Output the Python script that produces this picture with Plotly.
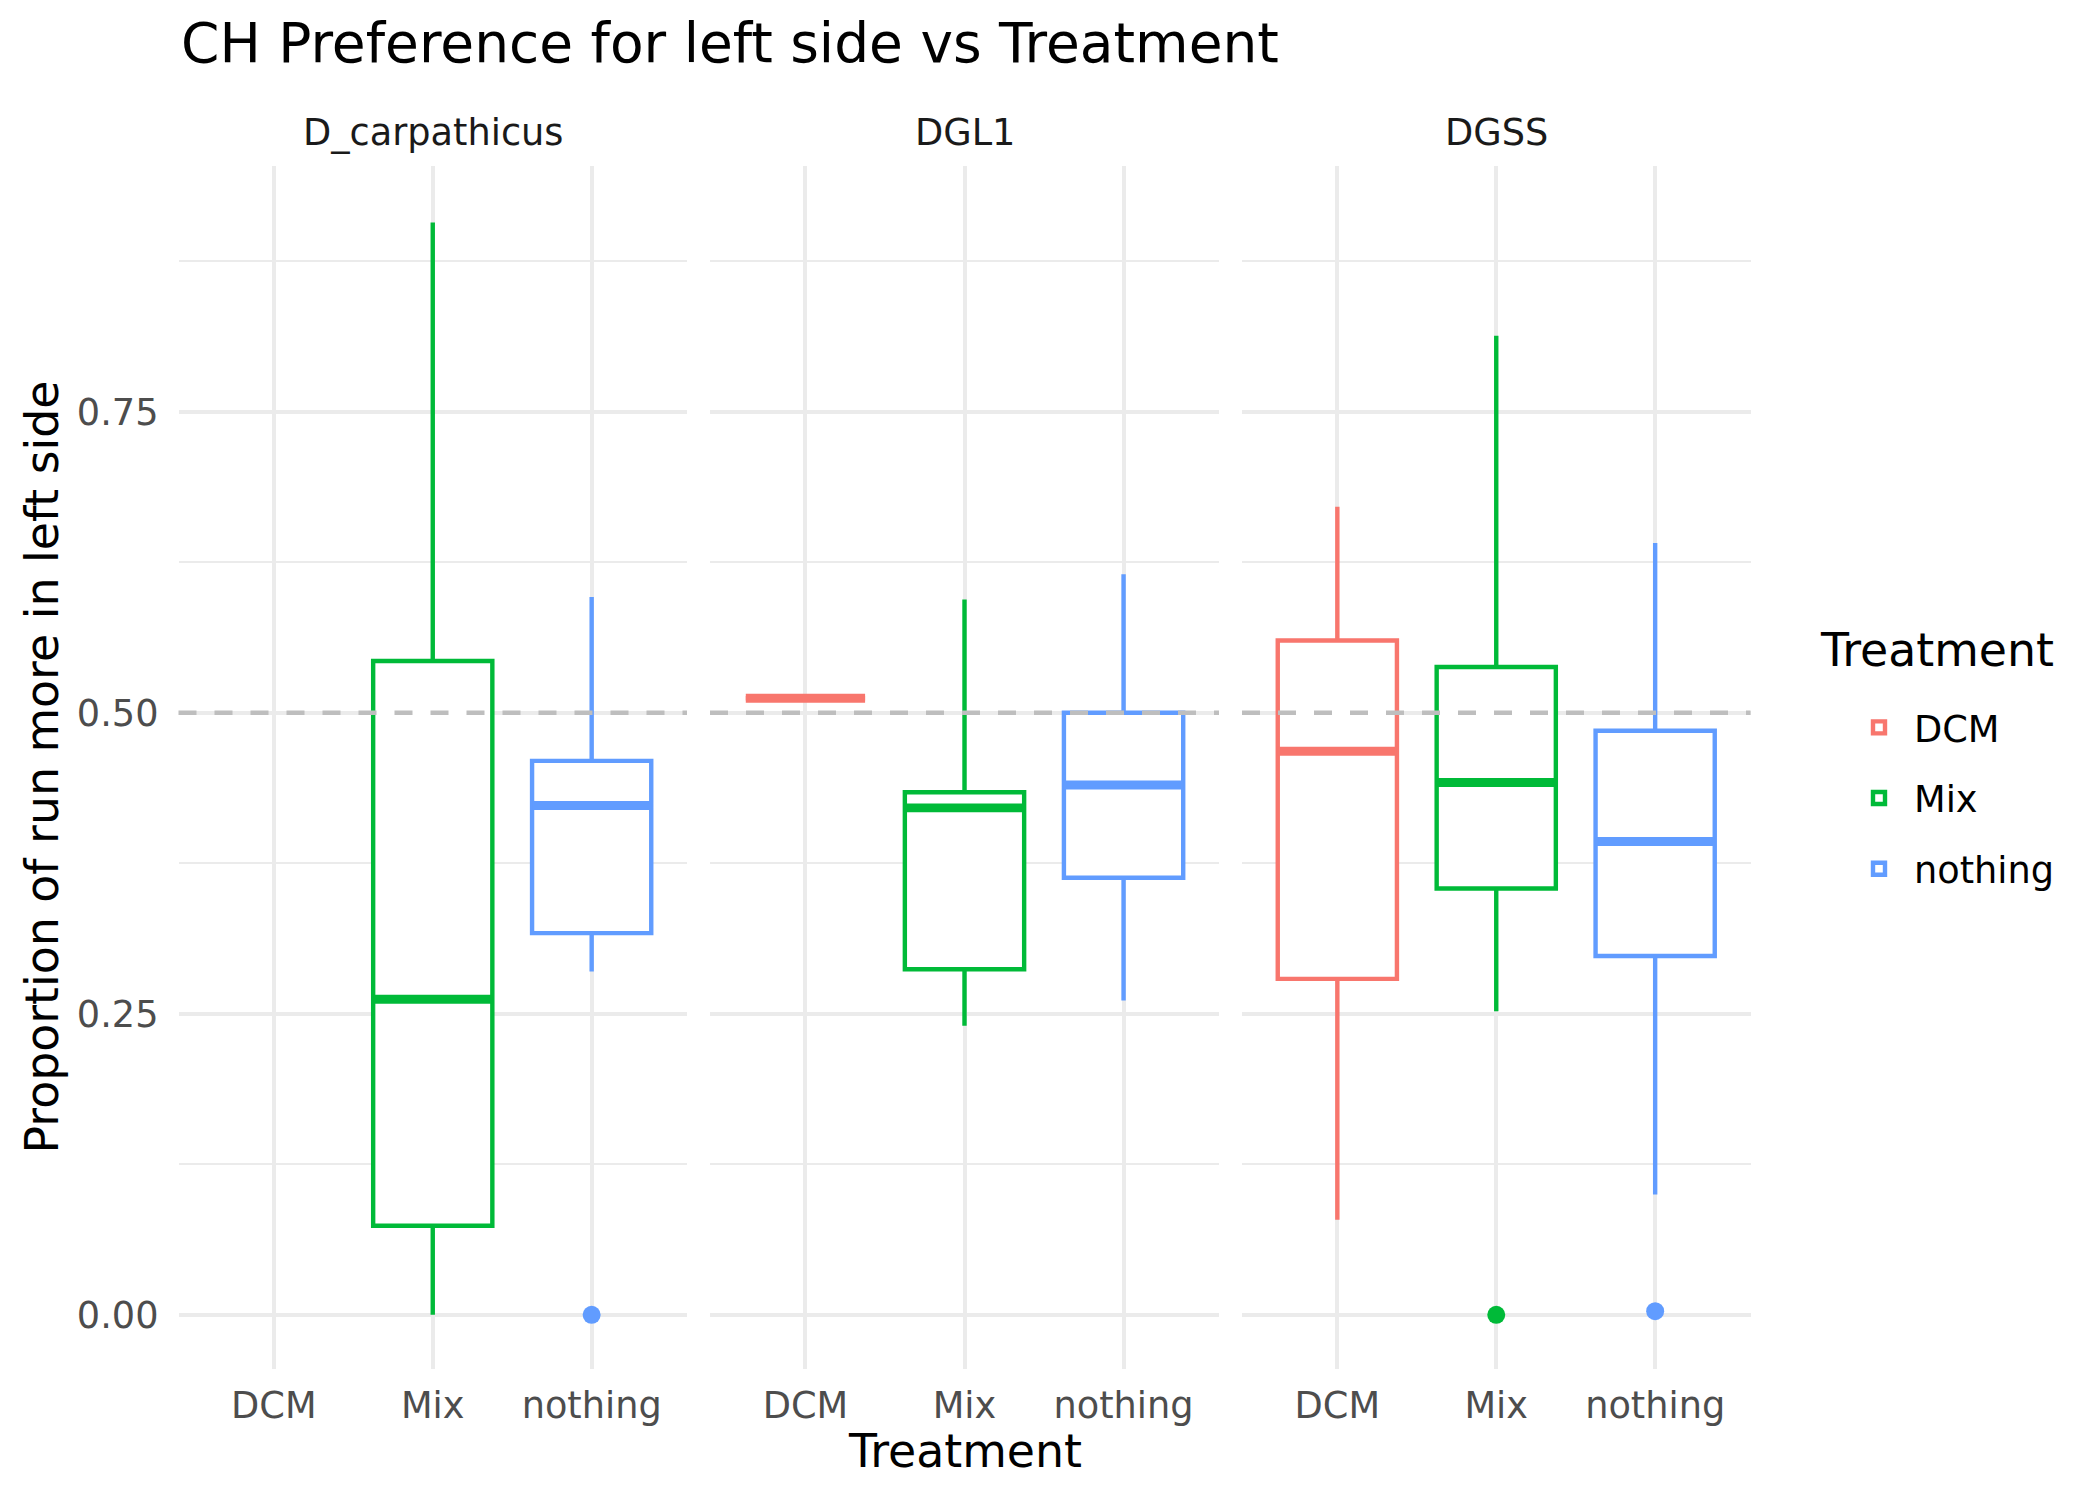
import plotly.graph_objects as go

# ---------------- data ----------------
facets = ["D_carpathicus", "DGL1", "DGSS"]
treatments = ["DCM", "Mix", "nothing"]
treatment_colors = ["#F8766D", "#00BA38", "#619CFF"]

box_facet = ["D_carpathicus", "D_carpathicus", "DGL1", "DGL1", "DGL1", "DGSS", "DGSS", "DGSS"]
box_treatment = ["Mix", "nothing", "DCM", "Mix", "nothing", "DCM", "Mix", "nothing"]
box_lower = [0.000, 0.285, 0.512, 0.240, 0.261, 0.079, 0.252, 0.100]
box_q1 = [0.074, 0.317, 0.512, 0.287, 0.363, 0.279, 0.354, 0.298]
box_median = [0.262, 0.423, 0.512, 0.421, 0.440, 0.468, 0.442, 0.393]
box_q3 = [0.543, 0.460, 0.512, 0.434, 0.500, 0.560, 0.538, 0.485]
box_upper = [0.907, 0.596, 0.512, 0.594, 0.615, 0.671, 0.813, 0.641]

outlier_facet = ["D_carpathicus", "DGSS", "DGSS"]
outlier_treatment = ["nothing", "Mix", "nothing"]
outlier_value = [0.000, 0.000, 0.003]

reference_line = 0.5
y_tick_vals = [0.0, 0.25, 0.5, 0.75]
y_tick_text = ["0.00", "0.25", "0.50", "0.75"]
y_minor_vals = [0.125, 0.375, 0.625, 0.875]
y_range = [-0.045, 0.954]

title_text = "CH Preference for left side vs Treatment"
x_title = "Treatment"
y_title = "Proportion of run more in left side"
legend_title = "Treatment"

# ---------------- styling ----------------
FONT = "DejaVu Sans"
OFF = 8  # default page body margin
W, H = 2100 - 2 * OFF, 1500 - 2 * OFF


def px_x(p):
    return (p - OFF) / W


def px_y(p):
    return 1 - (p - OFF) / H


panel_px = [(178.5, 687.0), (710.0, 1219.0), (1242.0, 1750.5)]
plot_top, plot_bottom = 166.0, 1369.0
box_width = 0.75
line_w = 4.4
median_w = 8.9
grid_col = "#EBEBEB"
axis_text_size = 36.7
title_size = 55
axis_title_size = 45.8

fig = go.Figure()


def axis_names(k):
    return ("x" if k == 1 else f"x{k}", "y" if k == 1 else f"y{k}")


for t, col in zip(treatments, treatment_colors):
    first = True
    xpos = treatments.index(t) + 1
    for i in range(len(box_facet)):
        if box_treatment[i] != t:
            continue
        k = facets.index(box_facet[i]) + 1
        xa, ya = axis_names(k)
        fig.add_trace(go.Box(
            x=[xpos], q1=[box_q1[i]], median=[box_median[i]], q3=[box_q3[i]],
            lowerfence=[box_lower[i]], upperfence=[box_upper[i]],
            orientation="v", width=box_width, whiskerwidth=0,
            fillcolor="white", line=dict(color=col, width=line_w),
            marker=dict(color=col), boxpoints=False,
            name=t, legendgroup=t, showlegend=first,
            xaxis=xa, yaxis=ya, hoverinfo="skip"))
        first = False
        # thicker median line (ggplot fatten = 2)
        fig.add_trace(go.Scatter(
            x=[xpos - box_width / 2, xpos + box_width / 2],
            y=[box_median[i], box_median[i]],
            mode="lines", line=dict(color=col, width=median_w),
            showlegend=False, legendgroup=t, hoverinfo="skip",
            xaxis=xa, yaxis=ya))
    for j in range(len(outlier_facet)):
        if outlier_treatment[j] != t:
            continue
        k = facets.index(outlier_facet[j]) + 1
        xa, ya = axis_names(k)
        fig.add_trace(go.Scatter(
            x=[xpos], y=[outlier_value[j]], mode="markers",
            marker=dict(color=col, size=18, line=dict(width=0)),
            showlegend=False, legendgroup=t, hoverinfo="skip",
            xaxis=xa, yaxis=ya))

layout = dict(
    width=W, height=H,
    margin=dict(l=0, r=0, t=0, b=0),
    paper_bgcolor="white", plot_bgcolor="white",
    font=dict(family=FONT, color="black"),
    boxmode="overlay",
    showlegend=True,
    legend=dict(
        font=dict(size=axis_text_size, color="black", family=FONT),
        x=px_x(1844), xanchor="left", y=px_y(697), yanchor="top",
        tracegroupgap=20, bgcolor="rgba(0,0,0,0)", borderwidth=0,
        itemwidth=60,
    ),
)

y_dom = [px_y(plot_bottom), px_y(plot_top)]
for k in range(1, 4):
    x0, x1 = panel_px[k - 1]
    xkey = "xaxis" if k == 1 else f"xaxis{k}"
    ykey = "yaxis" if k == 1 else f"yaxis{k}"
    layout[xkey] = dict(
        domain=[px_x(x0), px_x(x1)], anchor="y" if k == 1 else f"y{k}",
        range=[0.4, len(treatments) + 0.6],
        tickvals=list(range(1, len(treatments) + 1)), ticktext=treatments,
        showgrid=True, gridcolor=grid_col, gridwidth=line_w,
        zeroline=False, showline=False, ticks="",
        tickfont=dict(size=axis_text_size, color="#4D4D4D", family=FONT),
        ticklabelstandoff=11,
    )
    layout[ykey] = dict(
        domain=y_dom, anchor="x" if k == 1 else f"x{k}",
        range=y_range, tickvals=y_tick_vals, ticktext=y_tick_text,
        showticklabels=(k == 1),
        showgrid=True, gridcolor=grid_col, gridwidth=line_w,
        zeroline=False, showline=False, ticks="",
        tickfont=dict(size=axis_text_size, color="#4D4D4D", family=FONT),
        ticklabelstandoff=19,
        minor=dict(tickvals=y_minor_vals, showgrid=True, gridcolor=grid_col,
                   gridwidth=line_w / 2, ticks=""),
    )
    if k > 1:
        layout[ykey]["matches"] = "y"

fig.update_layout(**layout)

# dashed reference line at 0.5 in every panel
for k in range(1, 4):
    xa, ya = axis_names(k)
    fig.add_shape(type="line", xref=f"{xa} domain", yref=ya,
                  x0=0, x1=1, y0=reference_line, y1=reference_line,
                  line=dict(color="#BEBEBE", width=line_w, dash="18px,18px"),
                  layer="above")

annotations = []
# strip labels
for k, f in enumerate(facets):
    x0, x1 = panel_px[k]
    annotations.append(dict(text=f, xref="paper", yref="paper",
                            x=px_x((x0 + x1) / 2), y=px_y(132),
                            xanchor="center", yanchor="middle", showarrow=False,
                            font=dict(size=axis_text_size, color="#1A1A1A", family=FONT)))
# title
annotations.append(dict(text=title_text, xref="paper", yref="paper",
                        x=px_x(panel_px[0][0]), y=px_y(43),
                        xanchor="left", yanchor="middle", showarrow=False,
                        font=dict(size=title_size, color="black", family=FONT)))
# x axis title
annotations.append(dict(text=x_title, xref="paper", yref="paper",
                        x=px_x((panel_px[0][0] + panel_px[2][1]) / 2), y=px_y(1451),
                        xanchor="center", yanchor="middle", showarrow=False,
                        font=dict(size=axis_title_size, color="black", family=FONT)))
# y axis title
annotations.append(dict(text=y_title, xref="paper", yref="paper",
                        x=px_x(41), y=px_y((plot_top + plot_bottom) / 2),
                        xanchor="center", yanchor="middle", showarrow=False,
                        textangle=-90,
                        font=dict(size=axis_title_size, color="black", family=FONT)))
# legend title
annotations.append(dict(text=legend_title, xref="paper", yref="paper",
                        x=px_x(1818), y=px_y(650),
                        xanchor="left", yanchor="middle", showarrow=False,
                        font=dict(size=axis_title_size, color="black", family=FONT)))
fig.update_layout(annotations=annotations)

fig.write_html("out.html")
